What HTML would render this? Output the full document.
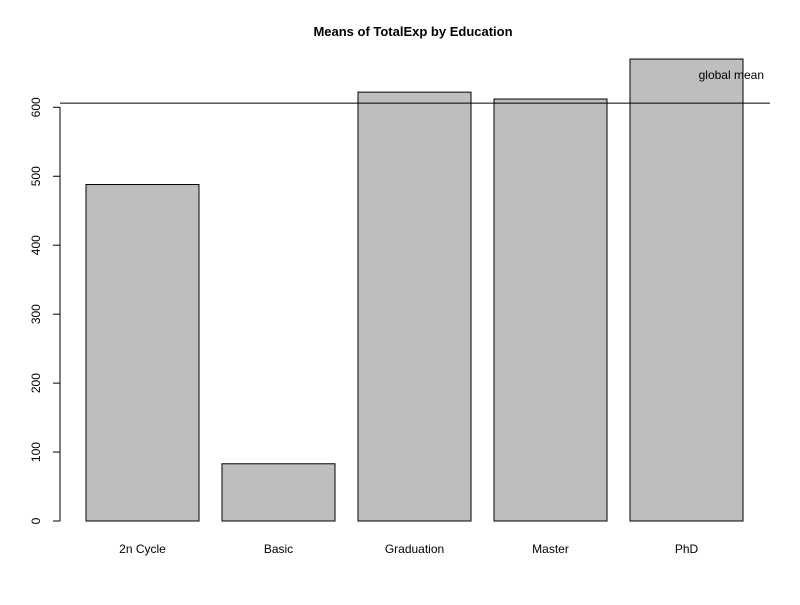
<!DOCTYPE html>
<html><head><meta charset="utf-8"><style>
body{margin:0;background:#fff}
svg text{font-family:"Liberation Sans",Arial,sans-serif;fill:#000}
</style></head><body>
<svg id="c" width="800" height="600" xmlns="http://www.w3.org/2000/svg">
<rect width="800" height="600" fill="#fff"/>
<text x="413" y="36" text-anchor="middle" font-size="13" font-weight="bold">Means of TotalExp by Education</text>
<g id="bars"></g><g id="axis"></g>
</svg>
<script>
const categories=["2n Cycle","Basic","Graduation","Master","PhD"];
const means=[488,83,622,612,670];
const ticks=[0,100,200,300,400,500,600];
const globalMean=606;
const NS="http://www.w3.org/2000/svg";
function y(v){return 521-v*0.6895;}
function x(i){return 86+i*136;}
const bw=113;
const bars=document.getElementById('bars'),axis=document.getElementById('axis');
function mk(t,a,p){const e=document.createElementNS(NS,t);for(const k in a)e.setAttribute(k,a[k]);p.appendChild(e);return e;}
categories.forEach((c,i)=>{
const r=mk('rect',{x:x(i),y:y(means[i]),width:bw,height:y(0)-y(means[i]),fill:'#bebebe',stroke:'#000','stroke-width':1},bars);


const t=mk('text',{x:x(i)+bw/2,y:553,'text-anchor':'middle','font-size':12},axis);
t.textContent=c;


});
const al=mk('line',{x1:60,x2:60,y1:y(0),y2:y(600),stroke:'#000'},axis);


ticks.forEach(v=>{
const l=mk('line',{x1:53,x2:60,y1:y(v),y2:y(v),stroke:'#000'},axis);


const t=mk('text',{x:0,y:0,'text-anchor':'middle','font-size':12,transform:`translate(40,${y(v)}) rotate(-90)`},axis);
t.textContent=v;


});
const gl=mk('line',{x1:60,x2:770,y1:y(globalMean),y2:y(globalMean),stroke:'#000'},axis);


const gt=mk('text',{x:764,y:79,'text-anchor':'end','font-size':12},axis);
gt.textContent='global mean';


</script>
</body></html>
